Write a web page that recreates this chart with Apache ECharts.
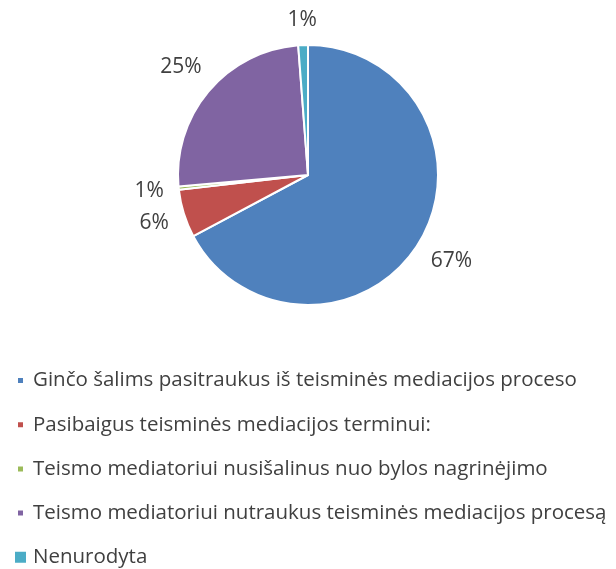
<!DOCTYPE html>
<html>
<head>
<meta charset="utf-8">
<script src="https://cdn.jsdelivr.net/npm/echarts@6/dist/echarts.min.js"></script>
<style>
  html, body { margin: 0; padding: 0; background: #fff; }
  #main { width: 616px; height: 569px; }
</style>
</head>
<body>
<div id="main"></div>
<script>
// kategorijos ir reikšmės (perskaityta iš paveikslo)
var categories = [
  'Ginčo šalims pasitraukus iš teisminės mediacijos proceso',
  'Pasibaigus teisminės mediacijos terminui:',
  'Teismo mediatoriui nusišalinus nuo bylos nagrinėjimo',
  'Teismo mediatoriui nutraukus teisminės mediacijos procesą',
  'Nenurodyta'
];
var values = [168, 15, 1, 63, 3];
var colors = ['#4F81BD', '#C0504D', '#9BBB59', '#8064A2', '#4BACC6'];

var pieCenter = [308, 175];
var pieRadius = 130;
var labelGap = 14;

// mazas kvadratelis 13x13 langelyje (paskutinis - didelis)
var smallIcon = 'path://M0,0M3,3h7v7h-7zM13,13';

var myChart = echarts.init(document.getElementById('main'));

var pieData = categories.map(function (name, i) {
  return { name: name, value: values[i], itemStyle: { color: colors[i] } };
});

var legendData = categories.map(function (name, i) {
  return { name: name, icon: i < categories.length - 1 ? smallIcon : 'rect' };
});

// etiketes dedam kaip Excel: centras ant vidurinio kampo krypties
function placeLabel(params) {
  var p0 = params.labelLinePoints && params.labelLinePoints[0];
  if (!p0) return {};
  var dx = (p0[0] - pieCenter[0]) / pieRadius;
  var dy = (p0[1] - pieCenter[1]) / pieRadius;
  var w = params.labelRect.width, h = params.labelRect.height;
  var d = labelGap + Math.abs(dx) * w / 2 + Math.abs(dy) * h / 2;
  return {
    x: p0[0] + dx * d,
    y: p0[1] + dy * d,
    align: 'center',
    verticalAlign: 'middle'
  };
}

var option = {
  animation: false,
  textStyle: { fontFamily: 'Open Sans' },
  legend: {
    orient: 'vertical',
    left: 13,
    top: 368,
    height: 260,
    padding: 0,
    itemWidth: 13,
    itemHeight: 13,
    itemGap: 19.2,
    textStyle: { fontSize: 20.5, color: '#404040', fontFamily: 'Open Sans', padding: [0, 0, 0, 1], lineHeight: 25 },
    data: legendData
  },
  series: [
    {
      type: 'pie',
      center: pieCenter,
      radius: pieRadius,
      startAngle: 90,
      clockwise: true,
      percentPrecision: 0,
      itemStyle: { borderColor: '#fff', borderWidth: 2 },
      label: {
        show: true,
        position: 'outside',
        formatter: '{d}%',
        fontSize: 21,
        color: '#404040',
        fontFamily: 'Open Sans'
      },
      labelLine: { show: false, length: 10, length2: 0 },
      labelLayout: placeLabel,
      data: pieData
    }
  ]
};

myChart.setOption(option);
</script>
</body>
</html>
